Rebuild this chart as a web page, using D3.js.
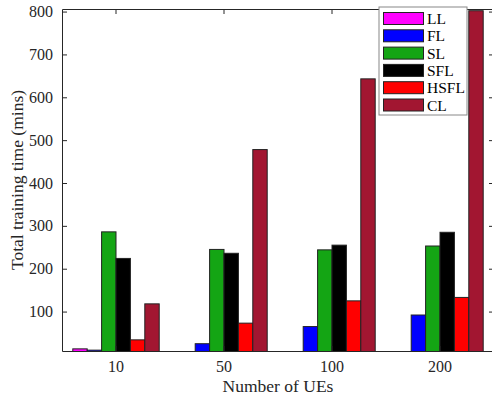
<!DOCTYPE html>
<html>
<head>
<meta charset="utf-8">
<script src="https://cdn.jsdelivr.net/npm/d3@7"></script>
<style>
  body { margin: 0; background: #fff; }
  text { font-family: "Liberation Serif", "Times New Roman", serif; }
</style>
</head>
<body>
<div class="container"></div>
<script>
// data
var ueCounts = ["10", "50", "100", "200"];
var methods = ["LL", "FL", "SL", "SFL", "HSFL", "CL"];
var methodColors = ["#ff00ff", "#0000ff", "#14a514", "#000000", "#ff0000", "#a21631"];
var llTime   = [13, 3, 3, 3];
var flTime   = [10, 25, 65, 92];
var slTime   = [286, 245, 244, 253];
var sflTime  = [224, 236, 255, 285];
var hsflTime = [34, 73, 125, 133];
var clTime   = [118, 478, 643, 802];
var yTicks = [100, 200, 300, 400, 500, 600, 700, 800];

var series = [llTime, flTime, slTime, sflTime, hsflTime, clTime];

var width = 492, height = 399;
var margin = {left: 62, right: -2, top: 9, bottom: 48};

var svg = d3.select("div.container").append("svg")
    .attr("width", width)
    .attr("height", height);

var plotW = width - margin.left - margin.right;
var plotH = height - margin.top - margin.bottom;

var x = d3.scaleBand()
    .domain(ueCounts)
    .range([0, plotW])
    .paddingInner(0.2)
    .paddingOuter(0.1);

var xInner = d3.scaleBand()
    .domain(methods)
    .range([0, x.bandwidth()]);

var y = d3.scaleLinear()
    .domain([8, 806])
    .range([plotH, 0]);

var g = svg.append("g")
    .attr("transform", "translate(" + margin.left + "," + margin.top + ")");

g.append("defs").append("clipPath").attr("id", "clip")
  .append("rect").attr("width", plotW).attr("height", plotH);

// bars
var bars = g.append("g").attr("clip-path", "url(#clip)");
methods.forEach(function(m, j) {
    bars.selectAll(".bar-" + m)
        .data(series[j])
        .enter()
        .append("rect")
        .attr("x", function(d, i) { return x(ueCounts[i]) + xInner(m); })
        .attr("y", function(d) { return y(d); })
        .attr("width", xInner.bandwidth())
        .attr("height", function(d) { return Math.max(0, plotH - y(d) + 2); })
        .attr("fill", methodColors[j])
        .attr("stroke", "#222")
        .attr("stroke-width", 1);
});

var axisColor = "#262626";

// axes, ticks inward like matlab
var yAxis = g.append("g")
    .call(d3.axisLeft(y).tickValues(yTicks).tickSizeInner(-5).tickSizeOuter(0).tickPadding(9));
var yAxisR = g.append("g")
    .attr("transform", "translate(" + plotW + ",0)")
    .call(d3.axisRight(y).tickValues(yTicks).tickSizeInner(-5).tickSizeOuter(0).tickFormat(""));
var xAxis = g.append("g")
    .attr("transform", "translate(0," + plotH + ")")
    .call(d3.axisBottom(x).tickSizeInner(-5).tickSizeOuter(0).tickPadding(10));
var xAxisT = g.append("g")
    .call(d3.axisTop(x).tickSizeInner(-5).tickSizeOuter(0).tickFormat(""));

[yAxis, yAxisR, xAxis, xAxisT].forEach(function(a) {
    a.select(".domain").attr("stroke", axisColor);
    a.selectAll(".tick line").attr("stroke", axisColor);
    a.selectAll("text")
        .attr("fill", axisColor)
        .style("font-size", "16px")
        .style("font-family", "'Liberation Serif', serif");
});

// axis labels
svg.append("text")
    .attr("x", margin.left + x("50") + x.bandwidth() + (x.step() - x.bandwidth()) / 2)
    .attr("y", 392)
    .attr("text-anchor", "middle")
    .attr("fill", axisColor)
    .style("font-size", "17.5px")
    .text("Number of UEs");

svg.append("text")
    .attr("transform", "translate(23," + (margin.top + plotH / 2) + ") rotate(-90)")
    .attr("text-anchor", "middle")
    .attr("fill", axisColor)
    .style("font-size", "17.5px")
    .text("Total training time (mins)");

// legend
var legend = svg.append("g").attr("transform", "translate(379,7)");
legend.append("rect")
    .attr("width", 88)
    .attr("height", 108)
    .attr("fill", "#fff")
    .attr("stroke", "#888")
    .attr("stroke-width", 1);

var rowH = 17.3;
methods.forEach(function(m, j) {
    var row = legend.append("g").attr("transform", "translate(0," + (5 + j * rowH) + ")");
    row.append("rect")
        .attr("x", 4.5)
        .attr("y", 0.5)
        .attr("width", 40)
        .attr("height", 12)
        .attr("fill", methodColors[j])
        .attr("stroke", "#222")
        .attr("stroke-width", 1);
    row.append("text")
        .attr("x", 48)
        .attr("y", 12)
        .attr("fill", "#000")
        .style("font-size", "15.5px")
        .text(m);
});
</script>
</body>
</html>
